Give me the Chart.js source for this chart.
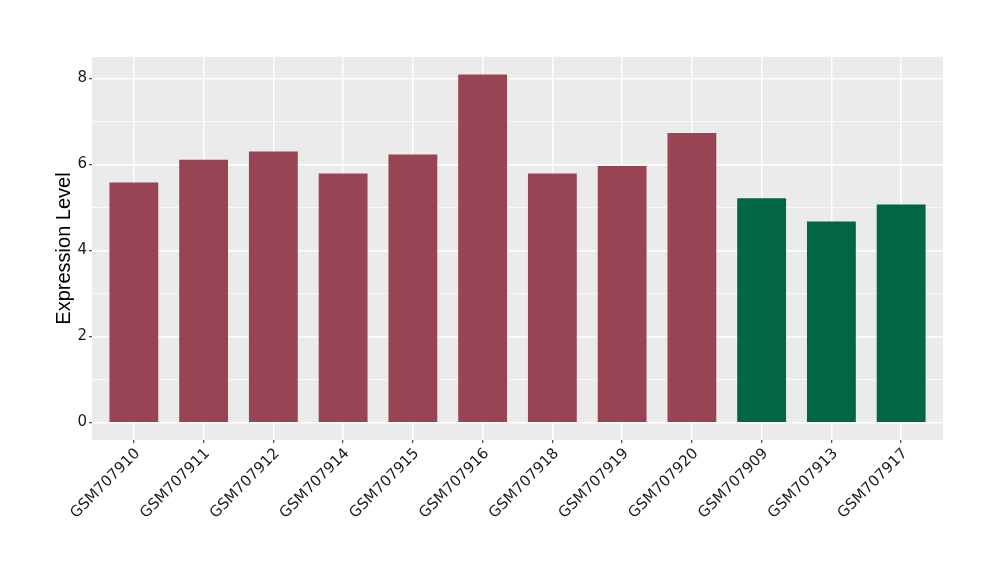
<!DOCTYPE html>
<html>
<head>
<meta charset="utf-8">
<script src="https://cdn.jsdelivr.net/npm/chart.js@4/dist/chart.umd.min.js"></script>
<style>
  html, body { margin: 0; padding: 0; background: #fff; }
  #wrap { width: 1000px; height: 580px; }
</style>
</head>
<body>
<div id="wrap"><canvas id="chart" width="1000" height="580"></canvas></div>
<script>
// Samples on the x axis, in plotted order
const samples = ['GSM707910', 'GSM707911', 'GSM707912', 'GSM707914', 'GSM707915', 'GSM707916',
  'GSM707918', 'GSM707919', 'GSM707920', 'GSM707909', 'GSM707913', 'GSM707917'];
// Expression level
const expression = [5.58, 6.11, 6.30, 5.79, 6.23, 8.09, 5.79, 5.96, 6.73, 5.21, 4.67, 5.07];
// Group of each sample (decides bar colour)
const groups = ['A', 'A', 'A', 'A', 'A', 'A', 'A', 'A', 'A', 'B', 'B', 'B'];
const groupColors = { A: '#994455', B: '#006644' };
const yTicks = [0, 1, 2, 3, 4, 5, 6, 7, 8];

const TITLE_FONT = '"Liberation Sans", Arial, sans-serif';
const TICK_FONT = '"DejaVu Sans", sans-serif';

// Grey ggplot-like panel behind the grid
const panelBackground = {
  id: 'panelBackground',
  beforeDraw(chart) {
    const { ctx, chartArea: a } = chart;
    ctx.save();
    ctx.fillStyle = '#EBEBEB';
    ctx.fillRect(a.left, a.top, a.right - a.left, a.bottom - a.top);
    ctx.restore();
  }
};

document.addEventListener('DOMContentLoaded', function() {
  const ctx = document.getElementById('chart').getContext('2d');
  const maxVal = Math.max(...expression);
  const pad = maxVal * 0.05;

  new Chart(ctx, {
    type: 'bar',
    data: {
      datasets: [{
        data: expression.map((v, i) => ({ x: i, y: v })),
        backgroundColor: groups.map(g => groupColors[g]),
        borderWidth: 0,
        barPercentage: 0.7,
        categoryPercentage: 1.0
      }]
    },
    options: {
      responsive: false,
      animation: false,
      layout: { padding: { left: 50, right: 57, top: 57, bottom: 0 } },
      plugins: {
        legend: { display: false },
        tooltip: { enabled: false }
      },
      scales: {
        x: {
          type: 'linear',
          offset: false,
          min: -0.6,
          max: samples.length - 0.4,
          afterBuildTicks: s => { s.ticks = samples.map((_, i) => ({ value: i })); },
          afterFit: s => { s.height = 140; },
          border: { display: false },
          grid: {
            offset: false,
            color: '#FFFFFF',
            lineWidth: 1.4,
            tickLength: 3,
            tickColor: '#333333',
            tickWidth: 1.1
          },
          ticks: {
            autoSkip: false,
            maxRotation: 45,
            minRotation: 45,
            padding: 2,
            labelOffset: 4,
            color: '#1A1A1A',
            font: { family: TICK_FONT, size: 15 },
            callback: v => samples[v]
          }
        },
        y: {
          min: -pad,
          max: maxVal + pad,
          afterBuildTicks: s => { s.ticks = yTicks.map(v => ({ value: v })); },
          afterFit: s => { s.width = 42; },
          border: { display: false },
          grid: {
            color: '#FFFFFF',
            lineWidth: c => (c.tick && c.tick.value % 2 ? 0.7 : 1.4),
            tickLength: 3,
            tickColor: c => (c.tick && c.tick.value % 2 ? 'rgba(0,0,0,0)' : '#333333'),
            tickWidth: 1.1
          },
          ticks: {
            padding: 2,
            color: '#1A1A1A',
            font: { family: TICK_FONT, size: 15 },
            callback: v => (v % 2 === 0 ? String(v) : '')
          },
          title: {
            display: true,
            text: 'Expression Level',
            color: '#000000',
            font: { family: TITLE_FONT, size: 20 },
            padding: { top: 2, bottom: 0 }
          }
        }
      }
    },
    plugins: [panelBackground]
  });
});
</script>
</body>
</html>
